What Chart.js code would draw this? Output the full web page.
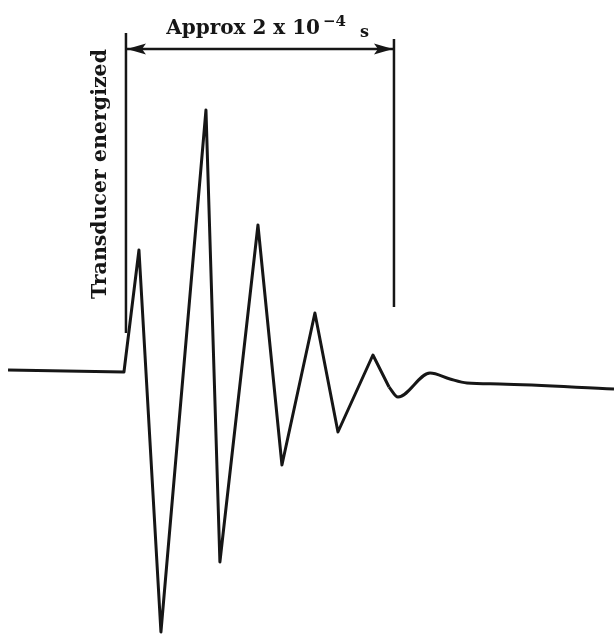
<!DOCTYPE html>
<html>
<head>
<meta charset="utf-8">
<script src="https://cdn.jsdelivr.net/npm/chart.js@4/dist/chart.umd.min.js"></script>
<style>
  html, body { margin: 0; padding: 0; background: #fff; }
  #wrap { width: 614px; height: 634px; }
</style>
</head>
<body>
<div id="wrap"><canvas id="pulse" width="614" height="634"></canvas></div>
<script>
// Transducer pulse: time in microseconds after energizing, amplitude in arbitrary units.
// Sharp part of the burst (straight segments between turning points).
const burstTime = [-88, -1.5, 9.7, 26.1, 59.7, 70.1, 98.5, 116.4, 141.0, 158.2, 184.3, 196.3];
const burstAmp  = [0.02, 0, 1.22, -2.60, 2.62, -1.90, 1.47, -0.93, 0.59, -0.60, 0.17, -0.15];

// Smooth ring-down tail.
const tailTime = [196.3, 203.0, 226.9, 241.8, 254.5, 279.1, 364.2];
const tailAmp  = [-0.15, -0.25, -0.01, -0.07, -0.11, -0.12, -0.17];

// Duration markers: energizing instant and end of the ~2e-4 s burst.
const markerTime   = [0, 200];
const markerTop    = [3.39, 3.33];
const markerBottom = [0.39, 0.65];
const spanLevel = 3.23;

// Text labels.
const spanLabel = 'Approx 2 x 10';
const spanExp = '\u22124';
const spanUnit = 's';
const startLabel = 'Transducer energized';

const ink = '#161616';

const toPoints = (xs, ys) => xs.map((x, i) => ({ x, y: ys[i] }));

const markerSets = markerTime.map((t, i) => ({
  data: [{ x: t, y: markerBottom[i] }, { x: t, y: markerTop[i] }],
  borderColor: ink,
  borderWidth: 2.5,
  pointRadius: 0,
  tension: 0
}));

const annotate = {
  id: 'annotate',
  afterDatasetsDraw(chart) {
    const { ctx, scales: { x, y } } = chart;
    ctx.save();
    ctx.strokeStyle = ink;
    ctx.fillStyle = ink;

    // Double-headed span arrow
    const x0 = x.getPixelForValue(markerTime[0]);
    const x1 = x.getPixelForValue(markerTime[1]);
    const ya = y.getPixelForValue(spanLevel);
    ctx.lineWidth = 2.5;
    ctx.beginPath();
    ctx.moveTo(x0, ya);
    ctx.lineTo(x1, ya);
    ctx.stroke();
    const head = (tip, dir) => {
      ctx.beginPath();
      ctx.moveTo(tip, ya);
      ctx.lineTo(tip + dir * 19, ya - 5.5);
      ctx.lineTo(tip + dir * 15, ya);
      ctx.lineTo(tip + dir * 19, ya + 5.5);
      ctx.closePath();
      ctx.fill();
    };
    head(x0 + 1, 1);
    head(x1 - 1, -1);

    // Span label with superscript exponent
    ctx.textBaseline = 'alphabetic';
    ctx.textAlign = 'left';
    const bx = x.getPixelForValue(30);
    const by = y.getPixelForValue(3.38);
    ctx.font = 'bold 20px "DejaVu Serif"';
    ctx.fillText(spanLabel, bx, by);
    let cx = bx + ctx.measureText(spanLabel).width + 3;
    ctx.font = 'bold 15px "DejaVu Serif"';
    ctx.fillText(spanExp, cx, by - 8);
    cx += ctx.measureText(spanExp).width + 14;
    ctx.font = 'bold 16px "DejaVu Serif"';
    ctx.fillText(spanUnit, cx, by + 3);

    // Vertical label beside the energizing marker
    ctx.translate(x.getPixelForValue(-18.7), y.getPixelForValue(1.98));
    ctx.rotate(-Math.PI / 2);
    ctx.textAlign = 'center';
    ctx.textBaseline = 'middle';
    ctx.font = 'bold 20.5px "DejaVu Serif"';
    ctx.fillText(startLabel, 0, 0);
    ctx.restore();
  }
};

new Chart(document.getElementById('pulse'), {
  type: 'line',
  data: {
    datasets: [
      {
        data: toPoints(burstTime, burstAmp),
        borderColor: ink,
        borderWidth: 3,
        pointRadius: 0,
        tension: 0,
        borderJoinStyle: 'round'
      },
      {
        data: toPoints(tailTime, tailAmp),
        borderColor: ink,
        borderWidth: 3,
        pointRadius: 0,
        cubicInterpolationMode: 'monotone'
      },
      ...markerSets
    ]
  },
  options: {
    responsive: false,
    animation: false,
    layout: { padding: 0 },
    plugins: { legend: { display: false }, tooltip: { enabled: false } },
    scales: {
      x: { type: 'linear', min: -94, max: 364.2, display: false },
      y: { type: 'linear', min: -2.62, max: 3.72, display: false }
    },
    elements: { line: { borderCapStyle: 'butt' } }
  },
  plugins: [annotate]
});
</script>
</body>
</html>
